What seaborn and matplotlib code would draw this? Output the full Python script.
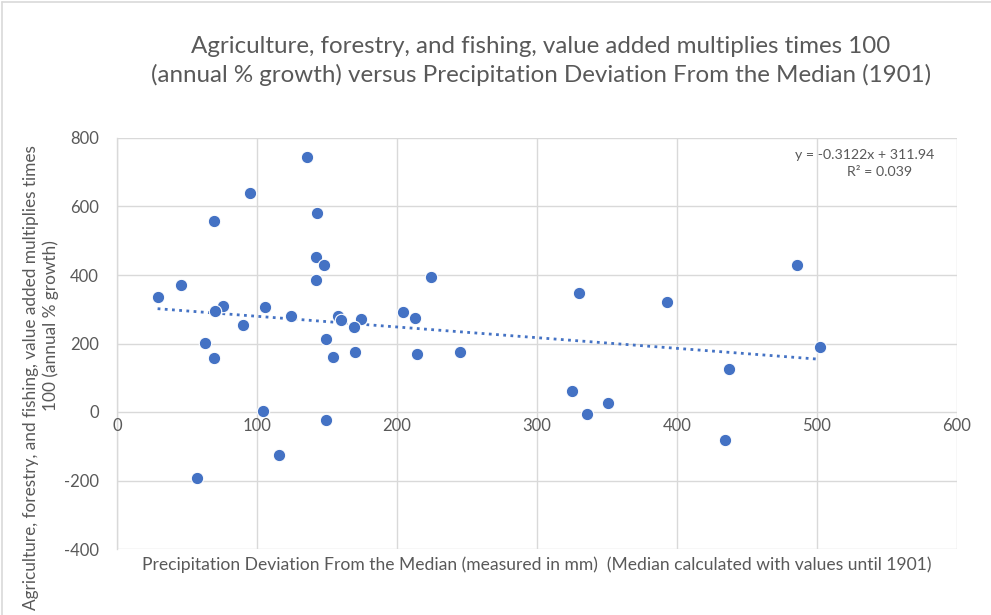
import numpy as np
import pandas as pd
import seaborn as sns
import matplotlib.pyplot as plt
from matplotlib.lines import Line2D

# Data
precip_dev = [136, 95, 143, 69, 142, 148, 142, 46, 29, 76, 70, 106, 124, 90,
              158, 160, 174, 169, 204, 63, 69, 149, 154, 170, 104, 149, 116, 57,
              224, 213, 214, 245, 330, 393, 486, 502, 437, 325, 351, 336, 434]
agri_growth = [745, 640, 582, 558, 453, 430, 385, 372, 337, 310, 295, 306, 281, 254,
               281, 270, 272, 249, 291, 202, 157, 212, 162, 175, 2, -24, -127, -192,
               393, 274, 170, 175, 346, 320, 430, 191, 125, 62, 27, -6, -83]

x_ticks = [0, 100, 200, 300, 400, 500, 600]
y_ticks = [-400, -200, 0, 200, 400, 600, 800]

title_text = ("Agriculture, forestry, and fishing, value added multiplies times 100\n"
              "(annual % growth) versus Precipitation Deviation From the Median (1901)")
xlabel_text = ("Precipitation Deviation From the Median (measured in mm)  "
               "(Median calculated with values until 1901)")
ylabel_line1 = "Agriculture, forestry, and fishing, value added multiplies times"
ylabel_line2 = "100 (annual % growth)"
eq_text = "y = -0.3122x + 311.94"
r2_text = "R² = 0.039"

df = pd.DataFrame({"x": precip_dev, "y": agri_growth})

sns.set_theme(style="white")
plt.rcParams['font.family'] = ['Lato', 'DejaVu Sans']
plt.rcParams['axes.unicode_minus'] = False

GREY = "#595959"
BLUE = "#4472C4"
GRID = "#D9D9D9"

fig = plt.figure(figsize=(9.91, 6.15), dpi=100)
ax = fig.add_axes([117/991, 1 - 549/615, (957-117)/991, (549-138)/615])

sns.regplot(data=df, x="x", y="y", ax=ax, ci=None, scatter=False, truncate=True,
            line_kws=dict(color=BLUE, lw=2.0, linestyle=(0, (1, 1.6))))
sns.scatterplot(data=df, x="x", y="y", ax=ax, color=BLUE, s=80,
                edgecolor="white", linewidth=0.8, zorder=5)

ax.set_xlim(0, 600)
ax.set_ylim(-400, 800)
ax.set_xticks(x_ticks)
ax.set_yticks(y_ticks)
ax.grid(True, color=GRID, lw=1.0)
ax.set_axisbelow(True)
for s in ["top", "right", "bottom"]:
    ax.spines[s].set_visible(False)
ax.spines["left"].set_color(GRID)
ax.spines["left"].set_linewidth(1.0)
ax.tick_params(axis="both", length=0, labelsize=12, labelcolor=GREY)
ax.tick_params(axis="y", pad=13)
ax.set_xlabel("")
ax.set_ylabel("")

# x tick labels sit just below the y=0 line (Excel style)
ax.set_xticklabels([])
for t in x_ticks:
    ax.text(t, -42, str(t), ha="center", va="center", fontsize=12, color=GREY)

fig.text(541/991, 1 - 61/615, title_text, ha="center", va="center",
         fontsize=17.4, color=GREY, linespacing=1.38)
fig.text(537/991, 1 - 565/615, xlabel_text, ha="center", va="center",
         fontsize=12.6, color=GREY)
fig.text(31/991, 1 - 378/615, ylabel_line1, ha="center", va="center",
         rotation=90, fontsize=12.4, color=GREY)
fig.text(51/991, 1 - 326/615, ylabel_line2, ha="center", va="center",
         rotation=90, fontsize=12.4, color=GREY)
fig.text(934/991, 1 - 155/615, eq_text, ha="right", va="center",
         fontsize=10.2, color=GREY)
fig.text(880/991, 1 - 172/615, r2_text, ha="center", va="center",
         fontsize=10.2, color=GREY)

# chart-area border (top and left visible in reference)
fig.add_artist(Line2D([2/991, 1], [1 - 2/615, 1 - 2/615], color=GRID, lw=1.2,
                      transform=fig.transFigure))
fig.add_artist(Line2D([2/991, 2/991], [0, 1 - 2/615], color=GRID, lw=1.2,
                      transform=fig.transFigure))

fig.savefig("out.png", dpi=100)
